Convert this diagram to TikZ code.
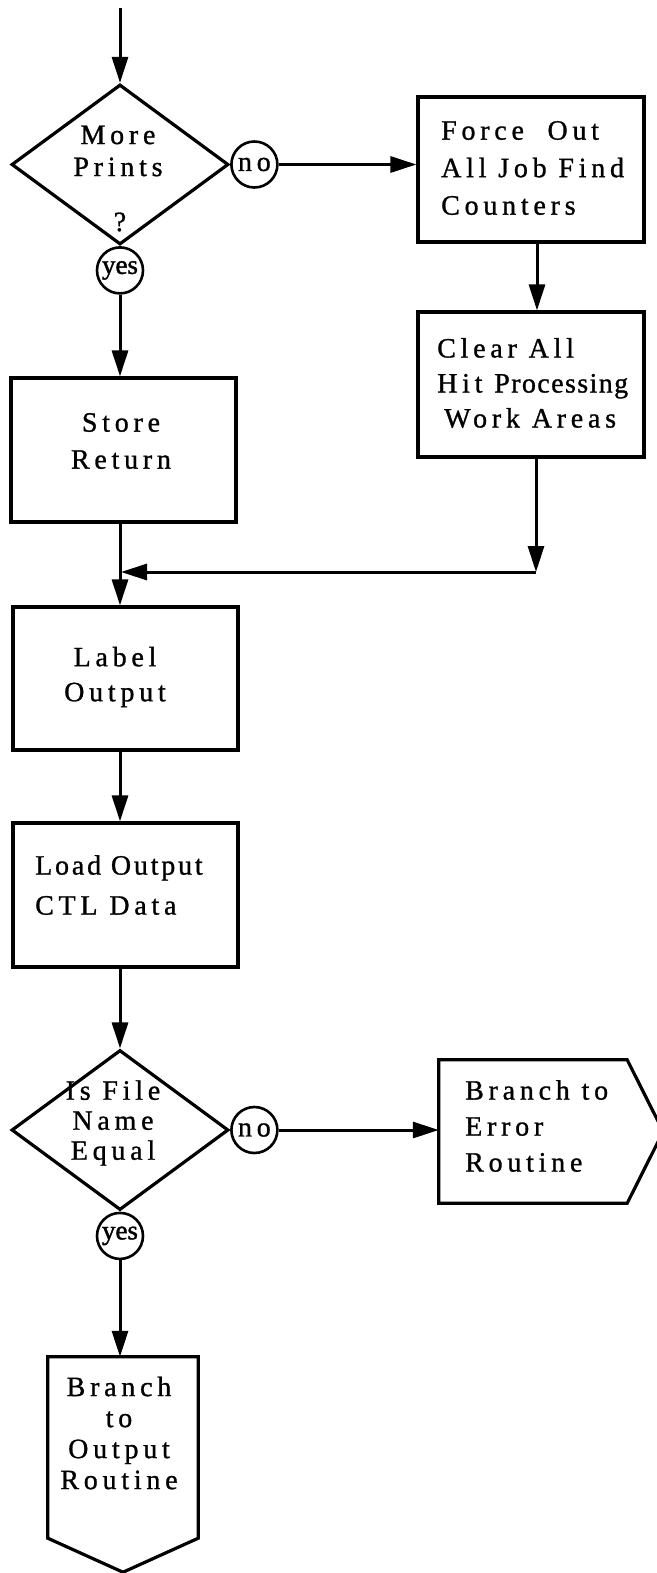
\documentclass[tikz,border=0pt]{standalone}
\usepackage{fontspec}
\setmainfont{Liberation Serif}
\newfontfamily\tw{Liberation Serif}[LetterSpace=17,FakeBold=1]
\newfontfamily\yesfont{Liberation Serif}[FakeBold=1.5]
\usetikzlibrary{arrows.meta,shapes.geometric}
\begin{document}
\begin{tikzpicture}[x=1pt,y=-1pt,
  box/.style={draw, line width=3.2pt, rectangle, inner sep=0pt},
  ghost/.style={rectangle, inner sep=0pt},
  dec/.style={draw, line width=3.2pt, diamond, inner sep=0pt, minimum width=217pt, minimum height=160pt},
  ring/.style={draw, line width=2.6pt, circle, inner sep=0pt, minimum size=46pt},
  arr/.style={line width=3pt, -{Triangle[length=26pt,width=16pt]}},
  ln/.style={line width=3.2pt, line join=miter},
  txt/.style={font=\tw\fontsize{28}{#1}\selectfont, inner sep=0pt, align=center},
  nolab/.style={font=\tw\fontsize{28}{28}\selectfont},
  yeslab/.style={font=\yesfont\fontsize{27}{27}\selectfont},
]
\useasboundingbox (0,0) rectangle (656,1573);

% shapes
\coordinate (start) at (120,8);
\node[dec] (D1) at (120,164.5) {};
\node[ring, nolab, anchor=west] (N1) at (D1.east) {no};
\node[ring, yeslab, anchor=north] (Y1) at (D1.south) {yes};
\node[box, minimum width=226pt, minimum height=145pt] (F) at (531,169.5) {};
\node[box, minimum width=226pt, minimum height=145pt] (C) at (531,384.5) {};
\node[box, minimum width=225pt, minimum height=144pt] (S) at (123.5,450) {};
\node[box, minimum width=225pt, minimum height=143pt] (L) at (125.5,678.5) {};
\node[box, minimum width=225pt, minimum height=144pt] (LD) at (125.5,895) {};
\node[dec] (D2) at (120,1130) {};
\node[ring, nolab, anchor=west] (N2) at (D2.east) {no};
\node[ring, yeslab, anchor=north] (Y2) at (D2.south) {yes};
\node[ghost, minimum width=188pt, minimum height=143pt] (E) at (533,1131.5) {};
\draw[ln] (E.north west) -- (E.north east) -- ([xshift=36pt]E.east) -- (E.south east) -- (E.south west) -- cycle;
\node[ghost, minimum width=150pt, minimum height=181pt] (O) at (123,1447.5) {};
\draw[ln] (O.north west) -- (O.north east) -- (O.south east) -- ([yshift=-34pt]O.south) -- (O.south west) -- cycle;
\coordinate (j1) at (536,572);
\coordinate (j2) at (121,572);

% texts
\node[txt=32] (tD1) at (118,151) {More\\Prints};
\node[txt=30] (tQ) at (120,222) {?};
\node[txt=37.5, align=left, anchor=west] (tF) at (441,168) {Force\ \ Out\\All Job Find\\Counters};
\node[txt=35, align=left, anchor=west] (tC) at (437,383) {Clear All\\Hit {\addfontfeatures{LetterSpace=5}Processing}\\\hspace{7pt}Work Areas};
\node[txt=37] (tS) at (121,441) {Store\\Return};
\node[txt=35] (tL) at (115,677) {Label\\Output};
\node[txt=40, align=left, anchor=west] (tLD) at (35,885) {{\addfontfeatures{LetterSpace=10}Load Output}\\CTL Data};
\node[txt=30] (tD2) at (113,1123) {Is File\\Name\\Equal};
\node[txt=36, align=left, anchor=west] (tE) at (465,1126) {Branch to\\Error\\Routine};
\node[txt=31] (tO) at (119,1433) {Branch\\to\\Output\\Routine};

% connectors
\draw[arr] (start) -- (D1.north);
\draw[arr] (N1.east) -- (F.west |- N1.east);
\draw[arr] ([xshift=6pt]F.south) -- ([xshift=6pt]C.north);
\draw[arr] (Y1.south) -- (S.north -| Y1.south);
\draw[arr] ([xshift=5pt]C.south) -- (j1);
\draw[arr] (j1) -- (j2);
\draw[arr] (S.south -| Y1.south) -- (L.north -| Y1.south);
\draw[arr] (L.south -| Y1.south) -- (LD.north -| Y1.south);
\draw[arr] (LD.south -| D2.north) -- (D2.north);
\draw[arr] (N2.east) -- (E.west |- N2.east);
\draw[arr] (Y2.south) -- (O.north -| Y2.south);
\end{tikzpicture}
\end{document}
